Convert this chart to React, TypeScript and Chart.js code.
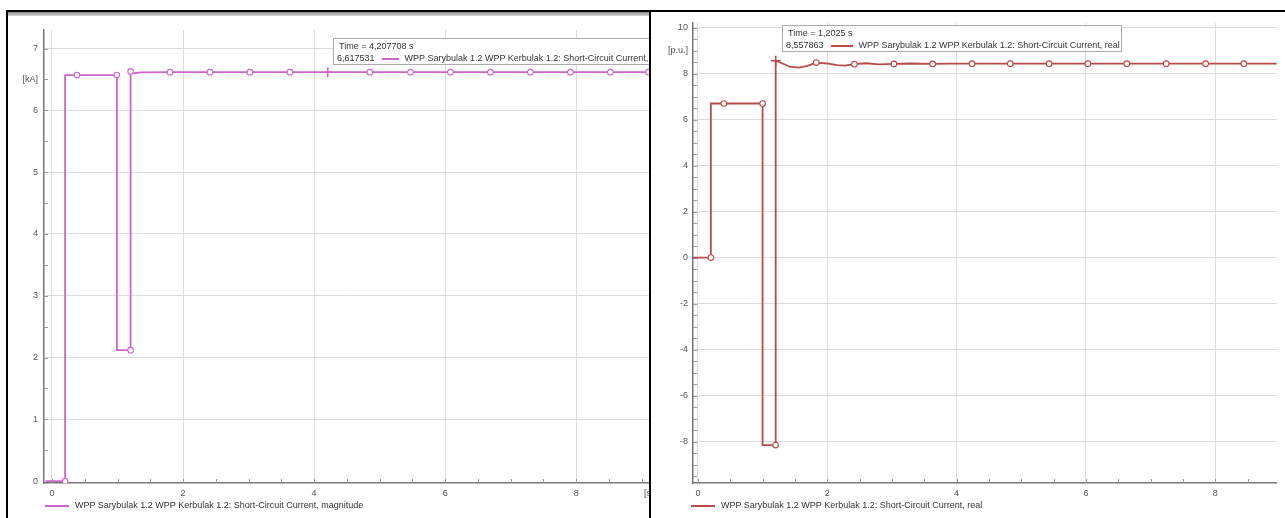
import React, { useEffect, useRef } from 'react';
import { Chart, registerables } from 'chart.js';

Chart.register(...registerables);

// ---------- data ----------
const leftTime = [-0.1, 0.2, 0.2, 0.38, 0.99, 0.99, 1.2, 1.2, 1.27, 1.35, 1.8, 2.41, 3.02, 3.63, 4.2077, 4.85, 5.47, 6.08, 6.69, 7.3, 7.91, 8.52, 9.1, 9.3];
const leftMagnitude = [0, 0, 6.57, 6.57, 6.57, 2.12, 2.12, 6.63, 6.6, 6.615, 6.618, 6.618, 6.618, 6.618, 6.6175, 6.618, 6.618, 6.618, 6.618, 6.618, 6.618, 6.618, 6.618, 6.618];
const leftMarkerKind = [0, 1, 0, 1, 1, 0, 1, 1, 0, 0, 1, 1, 1, 1, 2, 1, 1, 1, 1, 1, 1, 1, 1, 0];

const rightTime = [-0.1, 0.2, 0.2, 0.4, 1.0, 1.0, 1.2, 1.2025, 1.3, 1.42, 1.55, 1.68, 1.83, 2.0, 2.15, 2.27, 2.42, 2.6, 2.8, 3.03, 3.3, 3.63, 3.9, 4.24, 4.83, 5.43, 6.03, 6.63, 7.24, 7.85, 8.44, 9.1];
const rightReal = [0, 0, 6.7, 6.7, 6.7, -8.15, -8.15, 8.558, 8.45, 8.3, 8.26, 8.33, 8.48, 8.44, 8.37, 8.35, 8.41, 8.45, 8.4, 8.42, 8.44, 8.42, 8.43, 8.43, 8.43, 8.43, 8.43, 8.43, 8.43, 8.43, 8.43, 8.43];
const rightMarkerKind = [0, 1, 0, 1, 1, 0, 1, 2, 0, 0, 0, 0, 1, 0, 0, 0, 1, 0, 0, 1, 0, 1, 0, 1, 1, 1, 1, 1, 1, 1, 1, 0];

const xTickValues = [0, 0.5, 1, 1.5, 2, 2.5, 3, 3.5, 4, 4.5, 5, 5.5, 6, 6.5, 7, 7.5, 8, 8.5, 9];
const xTickLabels = ['0', '', '', '', '2', '', '', '', '4', '', '', '', '6', '', '', '', '8', '', ''];

const leftYTickValues = [0, 0.5, 1, 1.5, 2, 2.5, 3, 3.5, 4, 4.5, 5, 5.5, 6, 6.5, 7];
const leftYTickLabels = ['0', '', '1', '', '2', '', '3', '', '4', '', '5', '', '6', '[kA]', '7'];
const leftYGridValues = [1, 2, 3, 4, 5, 6, 7];

const rightYTickValues = [-9.5, -9, -8.5, -8, -7.5, -7, -6.5, -6, -5.5, -5, -4.5, -4, -3.5, -3, -2.5, -2, -1.5, -1, -0.5, 0, 0.5, 1, 1.5, 2, 2.5, 3, 3.5, 4, 4.5, 5, 5.5, 6, 6.5, 7, 7.5, 8, 8.5, 9, 9.5, 10];
const rightYTickLabels = ['', '', '', '-8', '', '', '', '-6', '', '', '', '-4', '', '', '', '-2', '', '', '', '0', '', '', '', '2', '', '', '', '4', '', '', '', '6', '', '', '', '8', '', '[p.u.]', '', '10'];
const rightYGridValues = [-8, -6, -4, -2, 0, 2, 4, 6, 8, 10];
const xGridValues = [0, 2, 4, 6, 8];

const leftLegend = 'WPP Sarybulak 1.2 WPP Kerbulak 1.2: Short-Circuit Current, magnitude';
const rightLegend = 'WPP Sarybulak 1.2 WPP Kerbulak 1.2: Short-Circuit Current, real';
const leftTipTime = 'Time = 4,207708 s';
const leftTipValue = '6,617531';
const leftTipName = 'WPP Sarybulak 1.2 WPP Kerbulak 1.2: Short-Circuit Current, magnitude';
const rightTipTime = 'Time = 1,2025 s';
const rightTipValue = '8,557863';
const rightTipName = 'WPP Sarybulak 1.2 WPP Kerbulak 1.2: Short-Circuit Current, real';

const FONT = '"Liberation Sans", Arial, sans-serif';
const GRID = '#dcdcdc';
const CLEAR = 'rgba(0,0,0,0)';

const minorTicks = {
  id: 'minorTicks',
  beforeDatasetsDraw(chart: any) {
    const { ctx, chartArea } = chart;
    const xs = chart.scales.x;
    const ys = chart.scales.y;
    ctx.save();
    ctx.strokeStyle = '#9a9a9a';
    ctx.lineWidth = 1;
    ctx.beginPath();
    xs.ticks.forEach((t: any) => {
      const px = Math.round(xs.getPixelForValue(t.value)) + 0.5;
      if (px < chartArea.left + 2 || px > chartArea.right) return;
      ctx.moveTo(px, chartArea.bottom);
      ctx.lineTo(px, chartArea.bottom - 4);
    });
    ys.ticks.forEach((t: any) => {
      const py = Math.round(ys.getPixelForValue(t.value)) + 0.5;
      if (py < chartArea.top || py > chartArea.bottom - 2) return;
      ctx.moveTo(chartArea.left, py);
      ctx.lineTo(chartArea.left + 4, py);
    });
    ctx.stroke();
    ctx.restore();
  },
};

type PanelProps = {
  time: number[];
  values: number[];
  kinds: number[];
  color: string;
  yTicks: number[];
  yLabels: string[];
  yGrid: number[];
  xMin: number;
  xMax: number;
  yMin: number;
  yMax: number;
  yAxisWidth: number;
  topPad: number;
  yPadding: number;
  width: number;
  height: number;
};

function PanelChart(p: PanelProps) {
  const ref = useRef<HTMLCanvasElement>(null);
  useEffect(() => {
    const data = p.time.map((t, i) => ({ x: t, y: p.values[i] }));
    const chart = new Chart(ref.current as HTMLCanvasElement, {
      type: 'line',
      data: {
        datasets: [
          {
            data,
            borderColor: p.color,
            borderWidth: 1.8,
            tension: 0,
            fill: false,
            pointRadius: p.kinds.map((k) => (k === 1 ? 2.8 : k === 2 ? 5 : 0)),
            pointStyle: p.kinds.map((k) => (k === 2 ? 'cross' : 'circle')) as any,
            pointBackgroundColor: '#ffffff',
            pointBorderColor: p.color,
            pointBorderWidth: p.kinds.map((k) => (k === 2 ? 1.6 : 1.1)),
            pointHoverRadius: 0,
          },
        ],
      },
      options: {
        responsive: false,
        animation: false,
        devicePixelRatio: 1,
        events: [],
        layout: { padding: { top: p.topPad, left: 0, right: 0, bottom: 0 } },
        plugins: { legend: { display: false }, tooltip: { enabled: false } },
        scales: {
          x: {
            type: 'linear',
            min: p.xMin,
            max: p.xMax,
            afterBuildTicks: (s: any) => {
              s.ticks = xTickValues.map((v) => ({ value: v }));
            },
            afterFit: (s: any) => {
              s.height = 35;
            },
            ticks: {
              autoSkip: false,
              maxRotation: 0,
              padding: 5,
              color: '#555',
              font: { family: FONT, size: 9 },
              callback: (v: any) => {
                const i = xTickValues.indexOf(Number(v));
                return i >= 0 ? xTickLabels[i] : '';
              },
            },
            grid: {
              drawTicks: false,
              lineWidth: 1,
              color: (ctx: any) => (ctx.tick && xGridValues.includes(ctx.tick.value) ? GRID : CLEAR),
            },
            border: { color: '#777', width: 1.5 },
          },
          y: {
            type: 'linear',
            min: p.yMin,
            max: p.yMax,
            afterBuildTicks: (s: any) => {
              s.ticks = p.yTicks.map((v) => ({ value: v }));
            },
            afterFit: (s: any) => {
              s.width = p.yAxisWidth;
            },
            ticks: {
              autoSkip: false,
              padding: p.yPadding,
              color: '#555',
              font: { family: FONT, size: 9 },
              callback: (v: any) => {
                const i = p.yTicks.indexOf(Number(v));
                return i >= 0 ? p.yLabels[i] : '';
              },
            },
            grid: {
              drawTicks: false,
              lineWidth: 1,
              color: (ctx: any) => (ctx.tick && p.yGrid.includes(ctx.tick.value) ? GRID : CLEAR),
            },
            border: { color: '#777', width: 1.5 },
          },
        },
      },
      plugins: [minorTicks],
    });
    return () => chart.destroy();
  }, []);
  return <canvas ref={ref} width={p.width} height={p.height} style={{ display: 'block', position: 'absolute', left: 0, top: 0 }} />;
}

const textStyle: React.CSSProperties = {
  position: 'absolute',
  fontFamily: FONT,
  fontSize: 9,
  color: '#333',
  whiteSpace: 'nowrap',
  lineHeight: '11px',
};

function Tip(props: { left: number; top: number; width: number; color: string; time: string; value: string; name: string; sample: number }) {
  return (
    <div
      style={{
        position: 'absolute',
        left: props.left,
        top: props.top,
        width: props.width,
        height: 27,
        border: '1px solid #aaa',
        background: 'rgba(255,255,255,0.92)',
        boxSizing: 'border-box',
      }}
    >
      <div style={{ ...textStyle, left: 5, top: 2 }}>{props.time}</div>
      <div style={{ ...textStyle, left: 3, top: 14, display: 'flex', alignItems: 'center' }}>
        <span>{props.value}</span>
        <span style={{ display: 'inline-block', width: props.sample, height: 2, background: props.color, margin: '0 6px 0 7px' }} />
        <span>{props.name}</span>
      </div>
    </div>
  );
}

function Legend(props: { left: number; top: number; color: string; text: string }) {
  return (
    <div style={{ ...textStyle, left: props.left, top: props.top, display: 'flex', alignItems: 'center' }}>
      <span style={{ display: 'inline-block', width: 24, height: 2, background: props.color, marginRight: 6 }} />
      <span>{props.text}</span>
    </div>
  );
}

export default function App() {
  const leftColor = '#cc66cc';
  const rightColor = '#b84a4a';
  return (
    <div style={{ position: 'fixed', left: 0, top: 0, width: 1285, height: 518, background: '#fff', overflow: 'hidden' }}>
      {/* left panel */}
      <div
        style={{
          position: 'absolute',
          left: 6,
          top: 10,
          width: 643,
          height: 508,
          borderLeft: '2px solid #000',
          borderTop: '2px solid #000',
          boxSizing: 'border-box',
          overflow: 'hidden',
        }}
      >
        <div style={{ position: 'absolute', left: 0, top: 0, width: '100%', height: 4, background: 'linear-gradient(#8a8a8a, #d8d8d8)' }} />
        <PanelChart
          time={leftTime}
          values={leftMagnitude}
          kinds={leftMarkerKind}
          color={leftColor}
          yTicks={leftYTickValues}
          yLabels={leftYTickLabels}
          yGrid={leftYGridValues}
          xMin={-0.122}
          xMax={9.11}
          yMin={-0.03}
          yMax={7.3}
          yAxisWidth={36}
          topPad={18}
          yPadding={6}
          width={641}
          height={506}
        />
        <div style={{ ...textStyle, color: '#555', left: 636, top: 476 }}>[s]</div>
        <Tip left={325} top={26} width={340} color={leftColor} time={leftTipTime} value={leftTipValue} name={leftTipName} sample={17} />
        <Legend left={37} top={488} color={leftColor} text={leftLegend} />
      </div>
      {/* right panel */}
      <div
        style={{
          position: 'absolute',
          left: 649,
          top: 10,
          width: 636,
          height: 508,
          borderLeft: '2px solid #000',
          borderTop: '2px solid #000',
          boxSizing: 'border-box',
          overflow: 'hidden',
        }}
      >
        <PanelChart
          time={rightTime}
          values={rightReal}
          kinds={rightMarkerKind}
          color={rightColor}
          yTicks={rightYTickValues}
          yLabels={rightYTickLabels}
          yGrid={rightYGridValues}
          xMin={-0.076}
          xMax={8.95}
          yMin={-9.8}
          yMax={10.2}
          yAxisWidth={42}
          topPad={11}
          yPadding={5}
          width={634}
          height={506}
        />
        <Tip left={131} top={13} width={340} color={rightColor} time={rightTipTime} value={rightTipValue} name={rightTipName} sample={22} />
        <Legend left={40} top={488} color={rightColor} text={rightLegend} />
      </div>
    </div>
  );
}
